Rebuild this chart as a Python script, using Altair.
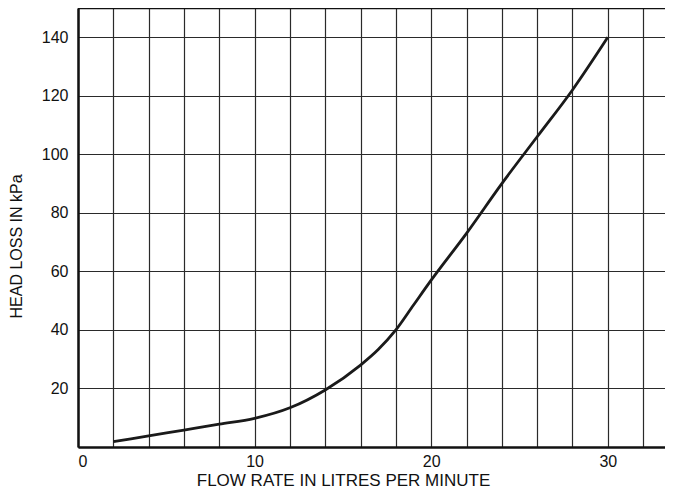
import altair as alt
import pandas as pd

# Flow rate (L/min) and head loss (kPa)
flow = [2, 4, 6, 8, 10, 12, 14, 16, 17, 18, 19, 20, 22, 24, 26, 28, 30]
head_loss = [1.8, 3.8, 5.8, 7.8, 9.8, 13.4, 19.5, 28, 33.3, 40, 48.5, 57, 73, 90, 106, 122, 140]

x_grid_values = list(range(0, 34, 2))
y_grid_values = list(range(0, 160, 10))

df = pd.DataFrame({"flow": flow, "loss": head_loss})

FONT = "Liberation Sans"

x_scale = alt.Scale(domain=[0, 33.24], nice=False, zero=False)
y_scale = alt.Scale(domain=[0, 150], nice=False)

line = alt.Chart(df).mark_line(
    color="#1a1a1a", strokeWidth=2.8, interpolate="monotone", clip=True
).encode(
    x=alt.X("flow:Q", scale=x_scale, axis=alt.Axis(
        values=x_grid_values,
        labelExpr="datum.value % 10 == 0 ? datum.label : ''",
        grid=True, gridColor="#2a2a2a", gridWidth=1.2, gridOpacity=1,
        domain=True, domainColor="#111111", domainWidth=2.5,
        ticks=False, labelPadding=6,
        labelFont=FONT, labelFontSize=16, labelColor="#111111",
        title="FLOW RATE IN LITRES PER MINUTE",
        titleFont=FONT, titleFontSize=17, titleFontWeight="normal",
        titleColor="#111111", titleX=265, titleY=33, titleAlign="center",
        titleBaseline="middle",
    )),
    y=alt.Y("loss:Q", scale=y_scale, axis=alt.Axis(
        values=y_grid_values,
        labelExpr="(datum.value % 20 == 0 && datum.value > 0) ? datum.label : ''",
        grid=True, gridColor="#2a2a2a", gridWidth=1.2, gridOpacity=1,
        domain=True, domainColor="#111111", domainWidth=2.5,
        ticks=False, labelPadding=10,
        labelFont=FONT, labelFontSize=16, labelColor="#111111",
        title="HEAD LOSS IN kPa",
        titleFont=FONT, titleFontSize=16, titleFontWeight="normal",
        titleColor="#111111", titleX=-62, titleY=238, titleAngle=-90,
        titleAlign="center", titleBaseline="middle",
    )),
)

top_border = alt.Chart(pd.DataFrame({"y": [150]})).mark_rule(
    color="#111111", strokeWidth=2.5
).encode(y=alt.Y("y:Q", scale=y_scale))

chart = alt.layer(line, top_border).properties(
    width=587, height=439,
    autosize=alt.AutoSizeParams(type="none"),
    padding={"left": 70, "top": 0, "right": 0, "bottom": 44},
).configure_view(stroke=None).configure(background="white")

chart.save("out.html", embed_options={"renderer": "svg", "actions": False})
